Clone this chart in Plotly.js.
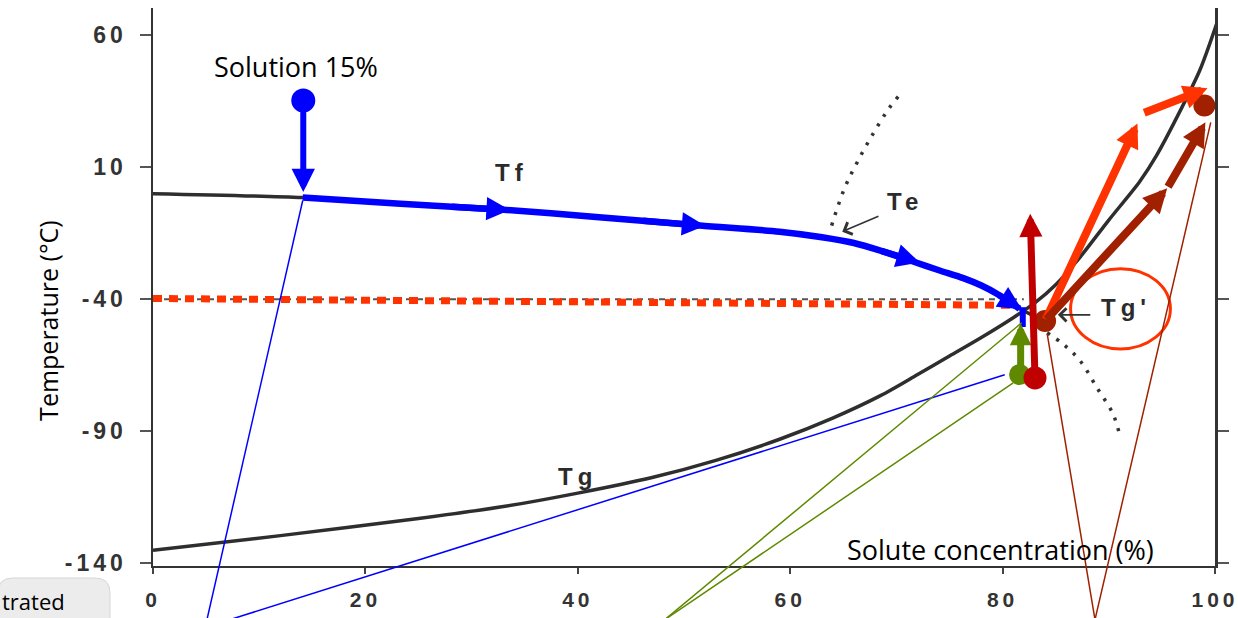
<!DOCTYPE html>
<html><head><meta charset="utf-8">
<script src="https://cdn.plot.ly/plotly-3.0.1.min.js"></script>
<style>
html,body{margin:0;padding:0;background:#fff;}
#chart{width:1238px;height:618px;}
.xtick text,.ytick text{letter-spacing:4px;}
</style></head><body><div id="chart"></div>
<script>
// ---------- axis ticks ----------
const xTickVals = [0, 20, 40, 60, 80, 100];
const xTickText = ['0', '20', '40', '60', '80', '100'];
const yTickVals = [60, 10, -40, -90, -140];
const yTickText = ['60', '10', '-40', '-90', '-140'];

// ---------- state-diagram curves (solute %, temperature °C) ----------
const tfX = [0, 14.1, 23.3, 33, 42, 51.5, 59, 63, 66, 68.5, 71.5, 74, 76.3, 78, 79.5, 81.6, 84.0];
const tfT = [0, -1.5, -3.8, -6.1, -8.9, -12.1, -14.4, -16.5, -18.7, -21.6, -25.6, -29, -32, -34.8, -38, -43.6, -48.2];
const tfDotX = [84.2, 85.7, 87.3, 88.9, 90.4, 91.1];
const tfDotT = [-52.7, -57, -63.3, -73.6, -83.5, -92.6];
const teX = [63.9, 65.1, 66.3, 67.7, 69.3, 70.2];
const teT = [-12.1, 1.9, 11.8, 22.0, 32.3, 36.9];
const tgX = [0, 12, 25, 33, 40, 47, 53, 59, 64, 68.5, 72, 75, 78, 81, 83, 85, 87.3, 90, 92.9, 94.5, 96.8, 98.6, 100.3];
const tgT = [-135, -129.5, -123, -118.5, -113.4, -107.5, -101, -93, -85, -76.5, -68.5, -61.5, -54.5, -47, -41.5, -34.5, -24, -10, 4.5, 14.5, 32, 47, 66];
const minus40X = [0, 82];
const minus40T = [-40, -40];

// ---------- overlay: process paths ----------
const redDotLineX = [0, 81.3];
const redDotLineT = [-39.7, -42.3];
const blueBarX = [81.9, 81.9];
const blueBarT = [-43, -50.5];
const blueHeadX = [33.6, 52.0, 72.2, 81.8];
const blueHeadT = [-6.2, -12.2, -26.1, -43.8];
const blueTailX = [28.0, 46.0, 68.5, 79.5];
const blueTailT = [-4.9, -10.2, -21.6, -38.0];

const solArrowX = [14.15, 14.15];
const solArrowT = [35.3, 0.6];
const greenArrowX = [81.7, 81.7];
const greenArrowT = [-68.5, -49.2];
const redArrowX = [83.05, 82.6];
const redArrowT = [-69.6, -7.6];
const orangeArrowX = [84.0, 92.7, 93.2, 99.3];
const orangeArrowT = [-48.2, 26.6, 30.4, 39.9];
const brownArrowX = [84.0, 95.5, 95.5, 99.1];
const brownArrowT = [-48.2, 2.0, 2.0, 27.0];

// dots: solution, green, red, Tg' point, final point
const dotX = [14.15, 81.6, 83.05, 84.0, 99.0];
const dotT = [35.3, -68.5, -69.8, -48.2, 33.4];

// thin callout lines [inner point -> lower edge]
const calloutFromX = [14.1, 80.2, 81.8, 81.0, 84.2, 99.6];
const calloutFromT = [-2.6, -68.6, -48.9, -71.7, -53.1, 27.0];
const calloutToX = [5.08, 7.25, 48.2, 48.2, 88.7, 88.7];
const calloutToT = [-161.3, -161.3, -161.3, -161.3, -161.3, -161.3];

// labels
const labelText = ['Tf', 'Te', 'Tg', "Tg'"];
const labelX = [33.8, 70.8, 40.0, 91.6];
const labelT = [8.0, -3.0, -107.2, -43.2];
const tePointerX = [68.45, 64.9];
const tePointerT = [-8.3, -14.4];
const tgpPointerX = [88.4, 85.2];
const tgpPointerT = [-45.9, -45.9];
const circleX = [86.4, 95.8];
const circleT = [-58.8, -28.4];

// ---------- styling ----------
const BLUE = '#0000FF', GREEN = '#5F8A00', RED = '#C00000', ORANGE = '#FF3300', BROWN = '#A02000', INK = '#2e2e2e';
const dotColors = [BLUE, GREEN, RED, BROWN, BROWN];
const dotSizes = [24, 21, 23, 22, 22];
const calloutColors = [BLUE, BLUE, GREEN, GREEN, BROWN, BROWN];

const traces = [
  {x: tgX, y: tgT, mode: 'lines', line: {color: INK, width: 3.5, shape: 'spline', smoothing: 0.8}, hoverinfo: 'skip'},
  {x: tfX, y: tfT, mode: 'lines', line: {color: INK, width: 3.5, shape: 'spline', smoothing: 0.8}, hoverinfo: 'skip'},
  {x: tfDotX, y: tfDotT, mode: 'lines', line: {color: '#333', width: 3.5, dash: '3px,8px', shape: 'spline'}, hoverinfo: 'skip'},
  {x: teX, y: teT, mode: 'lines', line: {color: '#333', width: 3.5, dash: '3px,8px', shape: 'spline'}, hoverinfo: 'skip'},
  {x: minus40X, y: minus40T, mode: 'lines', line: {color: '#555', width: 2, dash: '6px,5px'}, hoverinfo: 'skip'},
  {x: redDotLineX, y: redDotLineT, mode: 'lines', line: {color: ORANGE, width: 7, dash: '9px,7px'}, hoverinfo: 'skip'},
  {x: tfX.slice(1, 16), y: tfT.slice(1, 16), mode: 'lines', line: {color: BLUE, width: 6.5, shape: 'spline', smoothing: 0.8}, hoverinfo: 'skip'},
  {x: blueBarX, y: blueBarT, mode: 'lines', line: {color: BLUE, width: 6}, hoverinfo: 'skip'},
  {x: dotX, y: dotT, mode: 'markers', marker: {color: dotColors, size: dotSizes, opacity: 1, line: {width: 0}}, hoverinfo: 'skip'}
];

function arrowAnn(x0, y0, x1, y1, color, width, size, head, standoff) {
  return {x: x1, y: y1, ax: x0, ay: y0, xref: 'x', yref: 'y', axref: 'x', ayref: 'y',
    text: '', showarrow: true, arrowhead: head, arrowsize: size, arrowwidth: width,
    arrowcolor: color, standoff: standoff || 0};
}

const annotations = [];
// callouts
for (let i = 0; i < calloutFromX.length; i++) {
  annotations.push(arrowAnn(calloutToX[i], calloutToT[i], calloutFromX[i], calloutFromT[i], calloutColors[i], 1.5, 1, 0, 0));
}
// pointers of the original figure
annotations.push(arrowAnn(tePointerX[0], tePointerT[0], tePointerX[1], tePointerT[1], '#333', 1.6, 1.6, 4, 0));
annotations.push(arrowAnn(tgpPointerX[0], tgpPointerT[0], tgpPointerX[1], tgpPointerT[1], '#333', 1.6, 1.6, 4, 0));
// blue path heads
for (let i = 0; i < blueHeadX.length; i++) {
  annotations.push(arrowAnn(blueTailX[i], blueTailT[i], blueHeadX[i], blueHeadT[i], BLUE, 6.5, 0.72, 2, 0));
}
annotations.push(arrowAnn(solArrowX[0], solArrowT[0], solArrowX[1], solArrowT[1], BLUE, 6, 0.78, 2, 0));
annotations.push(arrowAnn(greenArrowX[0], greenArrowT[0], greenArrowX[1], greenArrowT[1], GREEN, 7, 0.62, 2, 0));
annotations.push(arrowAnn(redArrowX[0], redArrowT[0], redArrowX[1], redArrowT[1], RED, 7, 0.66, 2, 0));
for (let i = 0; i < orangeArrowX.length; i += 2) {
  annotations.push(arrowAnn(orangeArrowX[i], orangeArrowT[i], orangeArrowX[i + 1], orangeArrowT[i + 1], ORANGE, 8, 0.6, 2, 0));
}
for (let i = 0; i < brownArrowX.length; i += 2) {
  annotations.push(arrowAnn(brownArrowX[i], brownArrowT[i], brownArrowX[i + 1], brownArrowT[i + 1], BROWN, 8, 0.6, 2, 0));
}
// curve labels
for (let i = 0; i < labelText.length; i++) {
  annotations.push({x: labelX[i], y: labelT[i], xref: 'x', yref: 'y', showarrow: false,
    text: '<span style="letter-spacing:5px">' + labelText[i] + '</span>',
    font: {family: 'Liberation Sans, Arial, sans-serif', size: 24, color: '#2b2b2b', weight: 'bold'}});
}
// slide texts
annotations.push({x: 13.5, y: 48.2, xref: 'x', yref: 'y', showarrow: false, text: 'Solution 15%',
  font: {family: 'Open Sans, sans-serif', size: 27, color: '#000'}});
annotations.push({x: 79.8, y: -134.6, xref: 'x', yref: 'y', showarrow: false, text: 'Solute concentration (%)',
  font: {family: 'Open Sans, sans-serif', size: 27, color: '#000'}});
annotations.push({x: -0.1168, y: 0.441, xref: 'paper', yref: 'paper', showarrow: false, textangle: -90,
  text: 'Temperature (°C)', font: {family: 'Open Sans, sans-serif', size: 25, color: '#000'}});
annotations.push({x: -0.1441, y: -0.0932, xref: 'paper', yref: 'paper', xanchor: 'left', yanchor: 'bottom', showarrow: false,
  text: 'trated', font: {family: 'Open Sans, sans-serif', size: 22, color: '#000'}});

const shapes = [
  {type: 'path', xref: 'paper', yref: 'paper', layer: 'below',
   path: 'M -0.146,-0.1 L -0.146,-0.048 Q -0.146,-0.0215 -0.132,-0.0215 L -0.0546,-0.0215 Q -0.0405,-0.0215 -0.0405,-0.048 L -0.0405,-0.1 Z',
   fillcolor: '#ececec', line: {color: '#d6d6d6', width: 1}},
  {type: 'circle', xref: 'x', yref: 'y', x0: circleX[0], x1: circleX[1], y0: circleT[0], y1: circleT[1],
   line: {color: ORANGE, width: 3}, layer: 'above'}
];

const layout = {
  width: 1238, height: 618,
  margin: {l: 153, r: 23, t: 8, b: 52, pad: 0},
  paper_bgcolor: '#ffffff', plot_bgcolor: '#ffffff',
  showlegend: false,
  xaxis: {range: [0, 100], tickvals: xTickVals, ticktext: xTickText, showgrid: false, zeroline: false,
    showline: true, linecolor: '#333', linewidth: 2, ticks: 'outside', ticklen: 6, tickwidth: 2, tickcolor: '#444',
    ticklabelstandoff: 8, ticklabeloverflow: 'allow',
    tickfont: {family: 'Liberation Sans, Arial, sans-serif', size: 21, color: '#333', weight: 'bold'}, fixedrange: true},
  yaxis: {range: [-141, 70.3], tickvals: yTickVals, ticktext: yTickText, showgrid: false, zeroline: false,
    showline: true, linecolor: '#333', linewidth: 2.5, mirror: 'ticks', ticks: 'outside', ticklen: 11, tickwidth: 2,
    tickcolor: '#555', ticklabelstandoff: 8, ticklabeloverflow: 'allow',
    tickfont: {family: 'Liberation Sans, Arial, sans-serif', size: 23, color: '#333', weight: 'bold'}, fixedrange: true},
  shapes: shapes,
  annotations: annotations
};

Plotly.newPlot('chart', traces, layout, {displayModeBar: false, staticPlot: true});
</script></body></html>
